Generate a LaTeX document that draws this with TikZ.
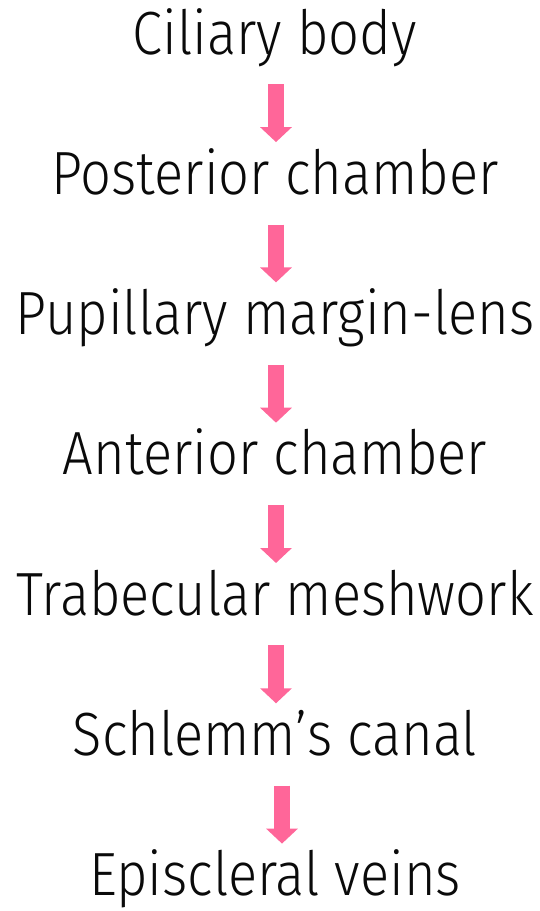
\documentclass[tikz,border=0pt]{standalone}
\usepackage{fontspec}
\setmainfont{Fira Sans Light}[FakeStretch=0.89]
\usepackage{tikz}
\usetikzlibrary{arrows.meta}
\definecolor{my_black}{HTML}{0A0A0A}
\definecolor{my_pink}{HTML}{FF6699}

\begin{document}
\begin{tikzpicture}[
    x=1pt, y=1pt,
    stage/.style={anchor=base, inner sep=0pt, text height=44pt, text depth=12pt,
        font=\fontsize{61}{70}\selectfont, text=my_black},
    flow/.style={my_pink, line width=16pt,
        -{Triangle[length=15pt,width=31pt]},
        shorten <=18pt, shorten >=8pt},
]
\useasboundingbox (0,0) rectangle (540,-911);

% ── Stages of the outflow path ───────────────────────────────────────────────
\pgfmathsetmacro{\pitch}{140.3}
\node[stage] (ciliary)    at (275,-54)            {Ciliary body};
\node[stage] (posterior)  at (275,{-54-\pitch})   {Posterior chamber};
\node[stage] (pupillary)  at (275,{-54-2*\pitch}) {Pupillary margin-lens};
\node[stage] (anterior)   at (275,{-54-3*\pitch}) {Anterior chamber};
\node[stage] (trabecular) at (275,{-54-4*\pitch}) {Trabecular meshwork};
\node[stage] (schlemm)    at (275,{-54-5*\pitch}) {Schlemm’s canal};
\node[stage] (episcleral) at (275,{-54-6*\pitch}) {Episcleral veins};

% ── Arrows between the stages ────────────────────────────────────────────────
\draw[flow] ([xshift=1pt]ciliary.south)    -- ([xshift=1pt]posterior.north);
\draw[flow] ([xshift=1pt]posterior.south)  -- ([xshift=1pt]pupillary.north);
\draw[flow] ([xshift=1pt]pupillary.south)  -- ([xshift=1pt]anterior.north);
\draw[flow] ([xshift=1pt]anterior.south)   -- ([xshift=1pt]trabecular.north);
\draw[flow] ([xshift=1pt]trabecular.south) -- ([xshift=1pt]schlemm.north);
% last one sits a little to the right
\draw[flow] ([xshift=7pt]schlemm.south)    -- ([xshift=7pt]episcleral.north);

\end{tikzpicture}
\end{document}
